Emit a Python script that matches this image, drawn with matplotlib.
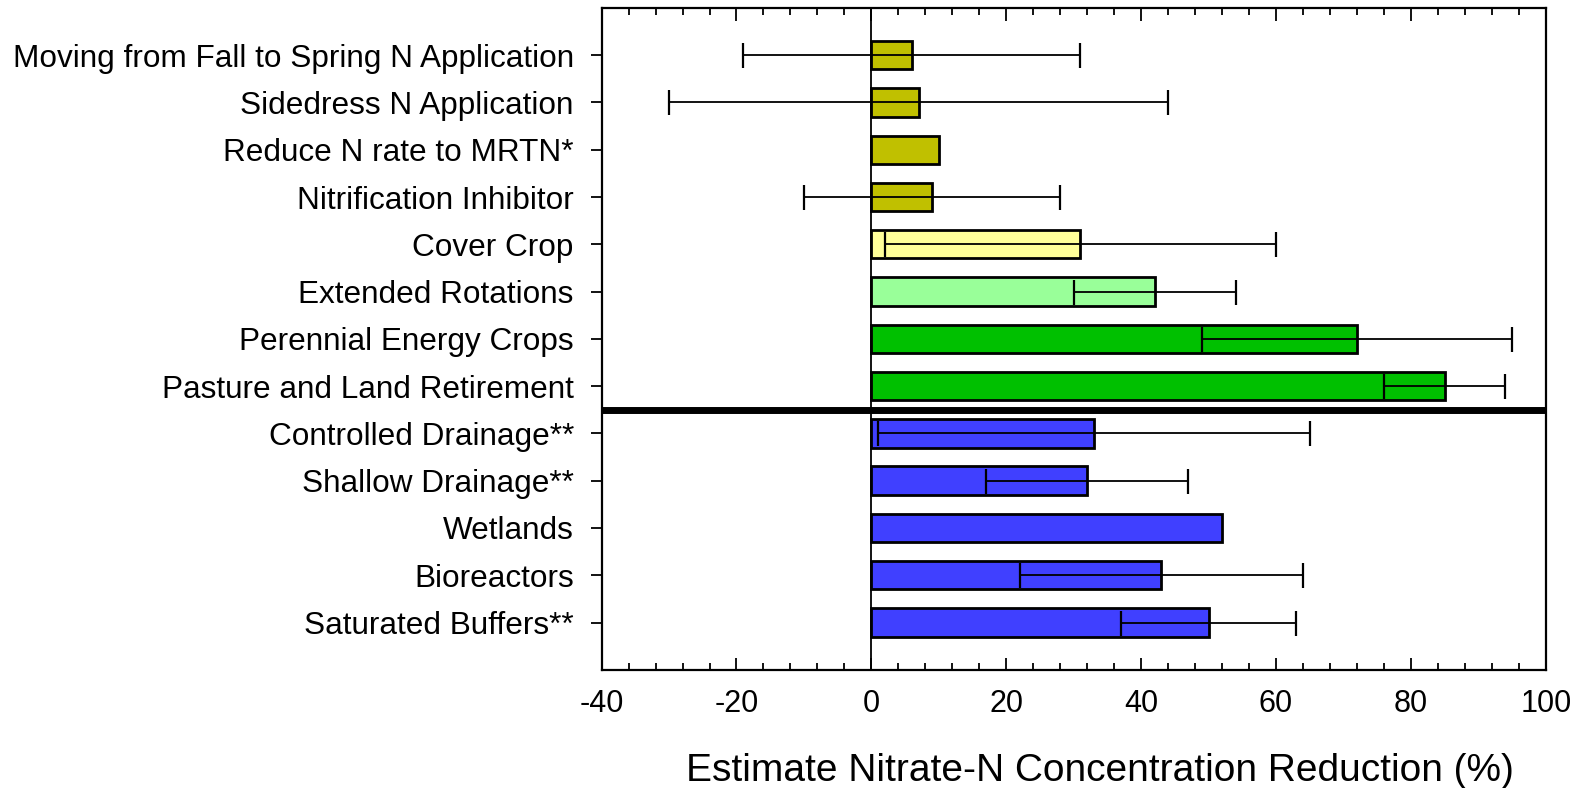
import matplotlib
matplotlib.use("Agg")
import matplotlib.pyplot as plt
from matplotlib.ticker import MultipleLocator

plt.rcParams['font.family'] = ['Liberation Sans', 'DejaVu Sans']

categories = ["Moving from Fall to Spring N Application", "Sidedress N Application",
              "Reduce N rate to MRTN*", "Nitrification Inhibitor", "Cover Crop",
              "Extended Rotations", "Perennial Energy Crops", "Pasture and Land Retirement",
              "Controlled Drainage**", "Shallow Drainage**", "Wetlands", "Bioreactors",
              "Saturated Buffers**"]
values = [6, 7, 10, 9, 31, 42, 72, 85, 33, 32, 52, 43, 50]
err_low = [-19, -30, None, -10, 2, 30, 49, 76, 1, 17, None, 22, 37]
err_high = [31, 44, None, 28, 60, 54, 95, 94, 65, 47, None, 64, 63]
colors = ["#c0c000", "#c0c000", "#c0c000", "#c0c000", "#ffff99", "#99ff99",
          "#00c000", "#00c000", "#4040ff", "#4040ff", "#4040ff", "#4040ff", "#4040ff"]
xticks = [-40, -20, 0, 20, 40, 60, 80, 100]
xlabel = "Estimate Nitrate-N Concentration Reduction (%)"

fig = plt.figure(figsize=(15.79, 7.88), dpi=100)
ax = fig.add_axes([0.381, 0.150, 0.598, 0.840])

ypos = list(range(len(categories)))
ax.axvline(0, color="black", lw=1.3, zorder=1)
ax.barh(ypos, values, height=0.6, color=colors, edgecolor="black", linewidth=2, zorder=2)
for y, lo, hi, v in zip(ypos, err_low, err_high, values):
    if lo is None:
        continue
    ax.errorbar([v], [y], xerr=[[v - lo], [hi - v]], fmt="none", ecolor="black",
                elinewidth=1.3, capsize=9, capthick=1.6, zorder=3)

ax.axhline(7.5, color="black", lw=5, zorder=4)

ax.set_xlim(-40, 100)
ax.set_ylim(12 + 1, -1)
ax.set_yticks(ypos)
ax.set_yticklabels(categories, fontsize=22.7)
ax.set_xticks(xticks)
ax.set_xticklabels([str(t) for t in xticks], fontsize=22)
ax.xaxis.set_minor_locator(MultipleLocator(4))
ax.tick_params(axis="x", which="major", direction="in", length=9, width=1.3,
               top=True, bottom=True, pad=14)
ax.tick_params(axis="x", which="minor", direction="in", length=5, width=1.3,
               top=True, bottom=True)
ax.tick_params(axis="y", which="major", direction="out", length=8, width=1.3, pad=12)
for s in ax.spines.values():
    s.set_linewidth(1.6)
ax.set_xlabel(xlabel, fontsize=28, labelpad=24)
ax.xaxis.label.set_x(0.528)

fig.savefig("out.png", dpi=100)
